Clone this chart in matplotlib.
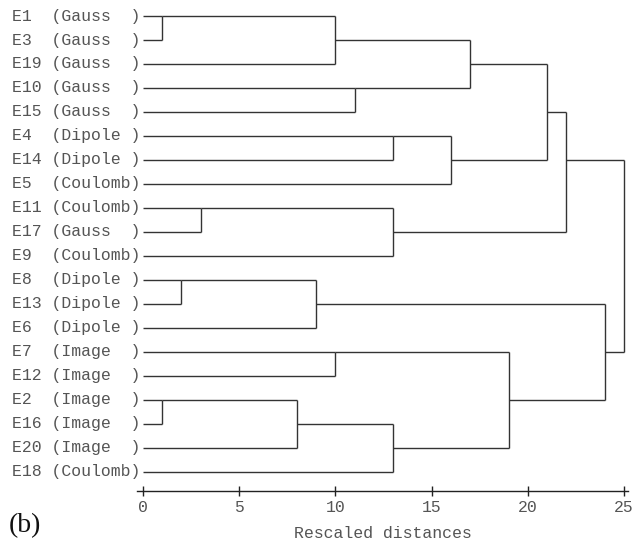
import matplotlib
matplotlib.use("Agg")
import matplotlib.pyplot as plt

# leaves in display order (top to bottom)
leaves = ["E1", "E3", "E19", "E10", "E15", "E4", "E14", "E5", "E11", "E17",
          "E9", "E8", "E13", "E6", "E7", "E12", "E2", "E16", "E20", "E18"]
kinds = ["Gauss", "Gauss", "Gauss", "Gauss", "Gauss", "Dipole", "Dipole",
         "Coulomb", "Coulomb", "Gauss", "Coulomb", "Dipole", "Dipole", "Dipole",
         "Image", "Image", "Image", "Image", "Image", "Coulomb"]

# merges: (child a, child b, rescaled distance); new cluster ids start at 20
merge_a = [0, 20, 3, 21, 5, 24, 23, 8, 27, 26, 11, 30, 14, 16, 33, 34, 32, 31, 29]
merge_b = [1, 2, 4, 22, 6, 7, 25, 9, 10, 28, 12, 13, 15, 17, 18, 19, 35, 36, 37]
merge_h = [1, 10, 11, 17, 13, 16, 21, 3, 13, 22, 2, 9, 10, 1, 8, 13, 19, 24, 25]

mono = "Liberation Mono"
line_col = "#333333"
text_col = "#555555"

fig = plt.figure(figsize=(6.41, 5.44), dpi=100)
ax = fig.add_axes([0.214, 0.0974, 0.7654, 0.8952])

n = len(leaves)
pos = list(range(n))
height = [0] * n

for a, b, h in zip(merge_a, merge_b, merge_h):
    for c in (a, b):
        ax.plot([height[c], h], [pos[c], pos[c]], color=line_col, lw=1.0,
                solid_capstyle="butt")
    ax.plot([h, h], [pos[a], pos[b]], color=line_col, lw=1.0,
            solid_capstyle="butt")
    # SPSS style: new cluster sits on the row at the (floored) midpoint
    pos.append((pos[a] + pos[b]) // 2)
    height.append(h)

for i, (name, kind) in enumerate(zip(leaves, kinds)):
    label = f"{name:<4}({kind:<7})"
    ax.text(-0.15, i, label, ha="right", va="center", family=mono,
            fontsize=11.9, color=text_col)

ax.set_xlim(-0.3, 25.2)
ax.set_ylim(19.8, -0.5)
for s in ("top", "left", "right"):
    ax.spines[s].set_visible(False)
ax.spines["bottom"].set_color("#222222")
ax.spines["bottom"].set_linewidth(1.0)
ax.set_yticks([])
ax.set_xticks([0, 5, 10, 15, 20, 25])
ax.tick_params(axis="x", direction="inout", length=6.5, width=1.0,
               color="#222222", labelsize=11.9, labelcolor=text_col, pad=3)
for t in ax.get_xticklabels():
    t.set_family(mono)
ax.set_xlabel("Rescaled distances", family=mono, fontsize=11.9,
              color=text_col, labelpad=8)

fig.text(25 / 641, 1 - 526 / 544, "(b)", family="Liberation Serif",
         fontsize=20, ha="center", va="center", color="#111111")

fig.savefig("out.png", dpi=100)
